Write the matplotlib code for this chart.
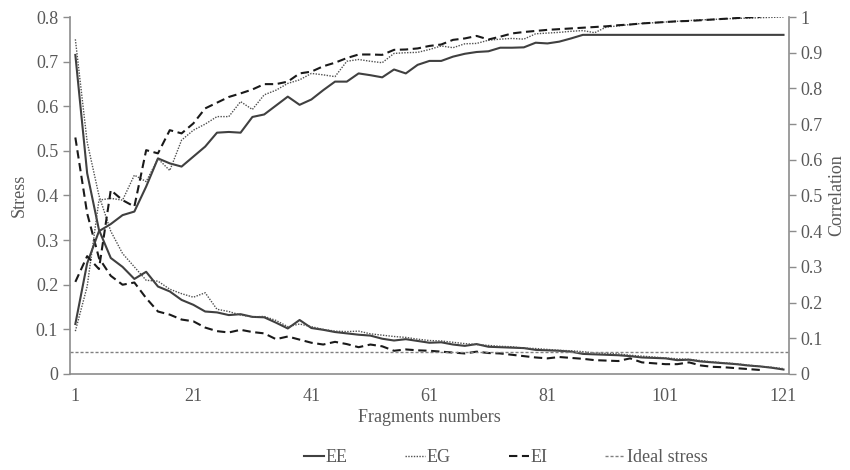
import numpy as np
import matplotlib
matplotlib.use('Agg')
import matplotlib.pyplot as plt
from matplotlib.ticker import FuncFormatter

# fragments 1, 3, 5, ..., 121
fragments = np.arange(1, 122, 2)

stress_ee = [0.715, 0.45, 0.323, 0.26, 0.24, 0.213, 0.229, 0.196, 0.185, 0.166,
             0.155, 0.14, 0.138, 0.132, 0.134, 0.128, 0.127, 0.115, 0.102, 0.121,
             0.103, 0.099, 0.094, 0.091, 0.088, 0.086, 0.079, 0.075, 0.078, 0.074,
             0.070, 0.071, 0.066, 0.063, 0.067, 0.061, 0.060, 0.059, 0.058, 0.054,
             0.053, 0.052, 0.050, 0.045, 0.044, 0.043, 0.042, 0.040, 0.037, 0.036,
             0.035, 0.031, 0.032, 0.028, 0.026, 0.024, 0.022, 0.019, 0.017, 0.014,
             0.010]
stress_eg = [0.75, 0.52, 0.40, 0.32, 0.27, 0.24, 0.21, 0.208, 0.19, 0.18,
             0.172, 0.182, 0.145, 0.140, 0.132, 0.128, 0.129, 0.12, 0.106, 0.112,
             0.106, 0.10, 0.096, 0.095, 0.096, 0.09, 0.087, 0.084, 0.082, 0.078,
             0.075, 0.074, 0.071, 0.068, 0.066, 0.064, 0.062, 0.061, 0.058, 0.057,
             0.055, 0.053, 0.052, 0.050, 0.047, 0.046, 0.045, 0.042, 0.040, 0.038,
             0.036, 0.034, 0.033, 0.030, 0.027, 0.025, 0.023, 0.020, 0.017, 0.015,
             0.012]
stress_ei = [0.53, 0.36, 0.26, 0.22, 0.20, 0.205, 0.17, 0.14, 0.133, 0.122,
             0.118, 0.104, 0.096, 0.093, 0.099, 0.094, 0.091, 0.078, 0.084, 0.077,
             0.070, 0.066, 0.072, 0.067, 0.060, 0.066, 0.062, 0.052, 0.055, 0.053,
             0.052, 0.050, 0.048, 0.046, 0.050, 0.047, 0.046, 0.043, 0.040, 0.037,
             0.035, 0.038, 0.036, 0.034, 0.031, 0.030, 0.029, 0.035, 0.026, 0.024,
             0.022, 0.022, 0.026, 0.019, 0.016, 0.015, 0.013, 0.011, 0.009, np.nan,
             np.nan]

corr_ee = [0.14, 0.31, 0.40, 0.42, 0.445, 0.455, 0.525, 0.604, 0.59, 0.581,
           0.609, 0.637, 0.676, 0.678, 0.676, 0.72, 0.727, 0.752, 0.777, 0.754,
           0.769, 0.795, 0.819, 0.819, 0.842, 0.837, 0.831, 0.853, 0.842, 0.866,
           0.877, 0.877, 0.889, 0.897, 0.902, 0.904, 0.914, 0.914, 0.915, 0.928,
           0.926, 0.931, 0.94, 0.95, 0.95, 0.95, 0.95, 0.95, 0.95, 0.95,
           0.95, 0.95, 0.95, 0.95, 0.95, 0.95, 0.95, 0.95, 0.95, 0.95,
           0.95]
corr_eg = [0.12, 0.245, 0.487, 0.492, 0.487, 0.557, 0.539, 0.603, 0.57, 0.655,
           0.683, 0.70, 0.721, 0.721, 0.763, 0.741, 0.782, 0.795, 0.814, 0.824,
           0.842, 0.838, 0.833, 0.876, 0.881, 0.876, 0.872, 0.898, 0.900, 0.901,
           0.909, 0.919, 0.914, 0.925, 0.926, 0.935, 0.938, 0.940, 0.938, 0.953,
           0.955, 0.957, 0.960, 0.962, 0.956, 0.972, 0.975, 0.979, 0.982, 0.984,
           0.986, 0.988, 0.990, 0.992, 0.993, 0.995, 0.996, 0.997, 0.998, 0.999,
           1.0]
corr_ei = [0.258, 0.33, 0.294, 0.515, 0.487, 0.469, 0.627, 0.618, 0.683, 0.674,
           0.702, 0.744, 0.76, 0.776, 0.786, 0.797, 0.812, 0.812, 0.819, 0.842,
           0.847, 0.862, 0.872, 0.885, 0.895, 0.895, 0.894, 0.908, 0.909, 0.912,
           0.919, 0.923, 0.936, 0.940, 0.947, 0.937, 0.945, 0.954, 0.958, 0.961,
           0.964, 0.966, 0.968, 0.970, 0.972, 0.974, 0.977, 0.979, 0.982, 0.984,
           0.986, 0.988, 0.989, 0.991, 0.993, 0.995, 0.997, 0.999, 1.0, np.nan,
           np.nan]

ideal_stress = 0.05

plt.rcParams['font.family'] = ['Liberation Serif', 'DejaVu Serif']
grey_txt = '#595959'
grey_axis = '#8c8c8c'

fig = plt.figure(figsize=(8.5, 4.7), dpi=100)
ax = fig.add_axes([0.0824, 0.2043, 0.8456, 0.7595])
ax2 = ax.twinx()

# stress curves (left axis)
l_ee, = ax.plot(fragments, stress_ee, color='#404040', lw=1.5, label='EE')
l_eg, = ax.plot(fragments, stress_eg, color='#505050', lw=1.0, ls=(0, (1, 1)), label='EG')
l_ei, = ax.plot(fragments, stress_ei, color='#1a1a1a', lw=1.5, ls=(0, (4, 2.2)), label='EI')
l_id = ax.axhline(ideal_stress, color='#808080', lw=1.0, ls=(0, (2.2, 1.4)), label='Ideal stress')

# correlation curves (right axis)
ax2.plot(fragments, corr_ee, color='#404040', lw=1.5)
ax2.plot(fragments, corr_eg, color='#505050', lw=1.0, ls=(0, (1, 1)))
ax2.plot(fragments, corr_ei, color='#1a1a1a', lw=1.5, ls=(0, (4, 2.2)))

ax.set_xlim(0.1, 121.9)
ax.set_ylim(0, 0.8)
ax2.set_ylim(0, 1)
ax.set_xticks(np.arange(1, 122, 20))
ax.set_yticks(np.arange(0, 0.81, 0.1))
ax2.set_yticks(np.arange(0, 1.01, 0.1))
fmt = FuncFormatter(lambda v, p: '%g' % round(v, 2))
ax.yaxis.set_major_formatter(fmt)
ax2.yaxis.set_major_formatter(fmt)

for a in (ax, ax2):
    for s in a.spines.values():
        s.set_visible(False)
    a.tick_params(colors=grey_txt, labelsize=13, width=1, length=5, color=grey_axis)
ax.spines['left'].set_visible(True)
ax.spines['bottom'].set_visible(True)
ax2.spines['right'].set_visible(True)
for s in (ax.spines['left'], ax.spines['bottom'], ax2.spines['right']):
    s.set_color(grey_axis)
    s.set_linewidth(1.2)
ax.tick_params(axis='x', length=0, pad=10)

ax.set_xlabel('Fragments numbers', color=grey_txt, fontsize=13, labelpad=3)
ax.set_ylabel('Stress', color=grey_txt, fontsize=13, labelpad=6)
ax2.set_ylabel('Correlation', color=grey_txt, fontsize=13, labelpad=4)

fig.legend(handles=[l_ee, l_eg, l_ei, l_id], loc='center', ncol=4,
           bbox_to_anchor=(0.595, 0.026), frameon=False, fontsize=13,
           handlelength=1.1, handletextpad=0.1, columnspacing=3.2,
           labelcolor=grey_txt, borderpad=0)

fig.savefig('out.png', dpi=100)
